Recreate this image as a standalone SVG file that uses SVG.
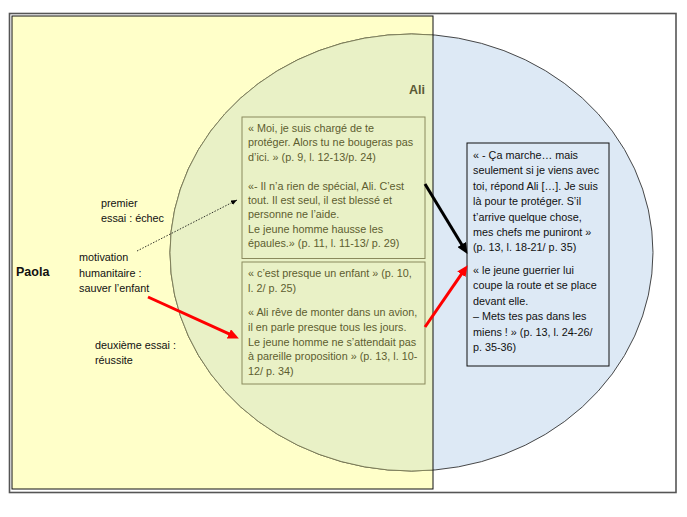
<svg xmlns="http://www.w3.org/2000/svg" width="687" height="517" viewBox="0 0 687 517">
<style>
text{font-family:"Liberation Sans",Arial,sans-serif;font-size:10.8px}
.olive{fill:#5d5d30}
.blk{fill:#111}
.bold{font-weight:bold;font-size:12.5px}
.gbox{fill:#E9F1C6;stroke:#8a8a5c;stroke-width:1}
.bbox{fill:#DDE9F5;stroke:#111;stroke-width:1}
</style>
<defs>
<clipPath id="clipY"><rect x="12" y="16" width="421" height="473"/></clipPath>
<marker id="headRed" markerUnits="userSpaceOnUse" markerWidth="12" markerHeight="10" refX="2" refY="5" orient="auto"><path d="M0,0 L11,5 L0,10 z" fill="#FF0000"/></marker>
<marker id="headBlk" markerUnits="userSpaceOnUse" markerWidth="12" markerHeight="10" refX="2" refY="5" orient="auto"><path d="M0,0 L11,5 L0,10 z" fill="#000"/></marker>
<marker id="headDot" markerUnits="userSpaceOnUse" markerWidth="7" markerHeight="6" refX="6" refY="2.5" orient="auto"><path d="M0,0 L6,2.5 L0,5 z" fill="#000"/></marker>
</defs>
<rect x="0" y="0" width="687" height="517" fill="#fff"/>
<rect x="9.5" y="13.5" width="666.5" height="479" fill="#fff" stroke="#555" stroke-width="1.6"/>
<g id="paola">
<rect x="12" y="16" width="421" height="473" fill="#FFFFC9"/>
</g>
<g id="ali">
<ellipse cx="411.5" cy="252.5" rx="241.5" ry="218.5" fill="#DDE9F5" stroke="#333" stroke-width="0.9"/>
<ellipse cx="411.5" cy="252.5" rx="241.5" ry="218.5" fill="#E9F1C6" stroke="#77774f" stroke-width="0.9" clip-path="url(#clipY)"/>
<text class="bold" x="425" y="93.5" text-anchor="end" fill="#5a5a35">Ali</text>
</g>
<rect x="12" y="16" width="421" height="473" fill="none" stroke="#111" stroke-width="1"/>
<text class="bold blk" x="16" y="276">Paola</text>
<g id="box1">
<rect class="gbox" x="242" y="117" width="183" height="141.5"/>
<text class="olive" x="248" y="132">« Moi, je suis chargé de te</text>
<text class="olive" x="248" y="146.4">protéger. Alors tu ne bougeras pas</text>
<text class="olive" x="248" y="160.8">d’ici. » (p. 9, l. 12-13/p. 24)</text>
<text class="olive" x="248" y="189.6">«- Il n’a rien de spécial, Ali. C’est</text>
<text class="olive" x="248" y="204">tout. Il est seul, il est blessé et</text>
<text class="olive" x="248" y="218.4">personne ne l’aide.</text>
<text class="olive" x="248" y="232.8">Le jeune homme hausse les</text>
<text class="olive" x="248" y="247.2">épaules.» (p. 11, l. 11-13/ p. 29)</text>
</g>
<g id="box2">
<rect class="gbox" x="242" y="262" width="183" height="122"/>
<text class="olive" x="248" y="277">« c’est presque un enfant » (p. 10,</text>
<text class="olive" x="248" y="291.8">l. 2/ p. 25)</text>
<text class="olive" x="248" y="316">« Ali rêve de monter dans un avion,</text>
<text class="olive" x="248" y="330.8">il en parle presque tous les jours.</text>
<text class="olive" x="248" y="345.6">Le jeune homme ne s’attendait pas</text>
<text class="olive" x="248" y="360.4">à pareille proposition » (p. 13, l. 10-</text>
<text class="olive" x="248" y="375.2">12/ p. 34)</text>
</g>
<g id="box3">
<rect class="bbox" x="467" y="143" width="142" height="223"/>
<text class="blk" x="473" y="159">« - Ça marche… mais</text>
<text class="blk" x="473" y="174.4">seulement si je viens avec</text>
<text class="blk" x="473" y="189.8">toi, répond Ali […]. Je suis</text>
<text class="blk" x="473" y="205.2">là pour te protéger. S’il</text>
<text class="blk" x="473" y="220.6">t’arrive quelque chose,</text>
<text class="blk" x="473" y="236">mes chefs me puniront »</text>
<text class="blk" x="473" y="251.4">(p. 13, l. 18-21/ p. 35)</text>
<text class="blk" x="473" y="274">« le jeune guerrier lui</text>
<text class="blk" x="473" y="289.4">coupe la route et se place</text>
<text class="blk" x="473" y="304.8">devant elle.</text>
<text class="blk" x="473" y="320.2">– Mets tes pas dans les</text>
<text class="blk" x="473" y="335.6">miens ! » (p. 13, l. 24-26/</text>
<text class="blk" x="473" y="351">p. 35-36)</text>
</g>
<g id="label-premier">
<text class="blk" x="101" y="207">premier</text>
<text class="blk" x="101" y="222">essai : échec</text>
</g>
<g id="label-motivation">
<text class="blk" x="79" y="260.5">motivation</text>
<text class="blk" x="79" y="276.5">humanitaire :</text>
<text class="blk" x="79" y="292">sauver l’enfant</text>
</g>
<g id="label-deuxieme">
<text class="blk" x="95" y="349">deuxième essai :</text>
<text class="blk" x="95" y="364">réussite</text>
</g>
<g id="connectors">
<line x1="137" y1="251" x2="237" y2="200" stroke="#000" stroke-width="0.8" stroke-dasharray="1.5,1.5" marker-end="url(#headDot)"/>
<line x1="148" y1="297" x2="230.7" y2="334.7" stroke="#FF0000" stroke-width="3" marker-end="url(#headRed)"/>
<line x1="425" y1="327" x2="462.5" y2="272.6" stroke="#FF0000" stroke-width="3" marker-end="url(#headRed)"/>
<line x1="425" y1="184" x2="462.8" y2="246.2" stroke="#000" stroke-width="3" marker-end="url(#headBlk)"/>
</g>
</svg>
